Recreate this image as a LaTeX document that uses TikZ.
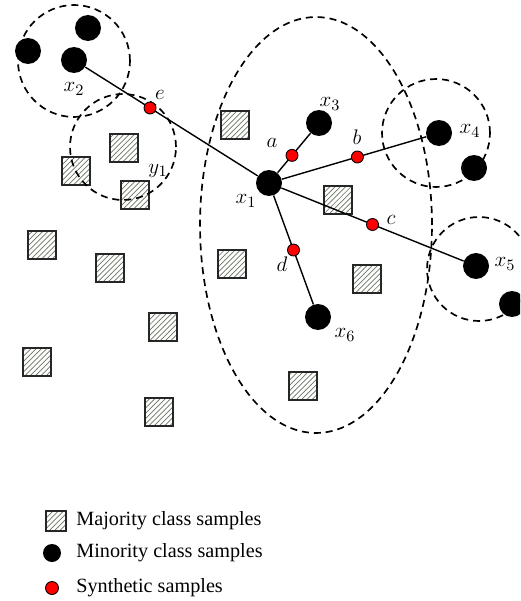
\documentclass[tikz,border=0pt]{standalone}
\usepackage{fontspec}
\setmainfont{Liberation Serif}
\usetikzlibrary{shapes,patterns,calc}

\definecolor{hatch}{RGB}{105,118,98}
\tikzset{
  minority/.style={shape=circle,fill=black,inner sep=0pt,minimum size=0.52cm},
  synthetic/.style={shape=circle,draw=black,fill=red,inner sep=0pt,minimum size=0.24cm,line width=0.5pt},
  majority/.style={shape=rectangle,draw=black!85,line width=0.7pt,inner sep=0pt,minimum size=0.56cm,pattern=north east lines,pattern color=hatch},
  region/.style={draw=black,dash pattern=on 4pt off 2.8pt,line width=0.95pt},
  link/.style={draw=black,line width=0.8pt},
  tag/.style={inner sep=0pt,font=\fontsize{12.5}{14}\selectfont},
  legend/.style={inner sep=0pt,anchor=west,font=\fontsize{11.5}{13}\selectfont},
}

\begin{document}
\begin{tikzpicture}[x=0.02cm,y=-0.02cm]
\clip (0,0) rectangle (520,601);

% majority class samples
\node[majority] (s1) at (235,125) {};
\node[majority] (s2) at (124,148) {};
\node[majority] (s3) at (76,171) {};
\node[majority] (s4) at (135,195) {};
\node[majority] (s5) at (338,200) {};
\node[majority] (s6) at (232,264) {};
\node[majority] (s7) at (367,279) {};
\node[majority] (s8) at (42,245) {};
\node[majority] (s9) at (110,268) {};
\node[majority] (s10) at (163,327) {};
\node[majority] (s11) at (37,362) {};
\node[majority] (s12) at (159,412) {};
\node[majority] (s13) at (303,386) {};

% neighbourhoods
\draw[region] (74,61) circle (1.12cm);
\draw[region] (123,147) circle (1.06cm);
\draw[region] (316,225) ellipse (2.32cm and 4.16cm);
\draw[region] (436,133) circle (1.08cm);
\draw[region] (479,269) circle (1.04cm);

% minority class samples
\node[minority] (1) at (269,183) {};
\node[minority] (2) at (74,60) {};
\node[minority] (3) at (319,123) {};
\node[minority] (4) at (439,133) {};
\node[minority] (5) at (476,266) {};
\node[minority] (6) at (318,317) {};
\node[minority] (7) at (28,51) {};
\node[minority] (8) at (88,28) {};
\node[minority] (9) at (474,168) {};
\node[minority] (10) at (512,304) {};

\path[link] (1) edge (2);
\path[link] (1) edge (3);
\path[link] (1) edge (4);
\path[link] (1) edge (5);
\path[link] (1) edge (6);

% synthetic samples
\node[synthetic] (a) at ($(1)!0.46!(3)$) {};
\node[synthetic] (b) at ($(1)!0.52!(4)$) {};
\node[synthetic] (c) at ($(1)!0.50!(5)$) {};
\node[synthetic] (d) at ($(1)!0.50!(6)$) {};
\node[synthetic] (e) at ($(2)!0.39!(1)$) {};

% labels
\node[tag] (l1) at (246,201) {$x_1$};
\node[tag] (l2) at (74,89) {$x_2$};
\node[tag] (l3) at (330,104) {$x_3$};
\node[tag] (l4) at (470,131) {$x_4$};
\node[tag] (l5) at (505,264) {$x_5$};
\node[tag] (l6) at (345,335) {$x_6$};
\node[tag] (y1) at (158,171) {$y_1$};
\node[tag] (la) at (272,143) {$a$};
\node[tag] (lb) at (357,137) {$b$};
\node[tag] (lc) at (391,220) {$c$};
\node[tag] (ld) at (282,264) {$d$};
\node[tag] (le) at (160,95) {$e$};

% legend
\node[majority,minimum size=0.4cm] (k1) at (56,521) {};
\node[minority,minimum size=0.36cm] (k2) at (52,553) {};
\node[synthetic,minimum size=0.26cm] (k3) at (52,588) {};
\node[legend] (t1) at (76,521) {Majority class samples};
\node[legend] (t2) at (76,553) {Minority class samples};
\node[legend] (t3) at (76,588) {Synthetic samples};
\end{tikzpicture}
\end{document}
